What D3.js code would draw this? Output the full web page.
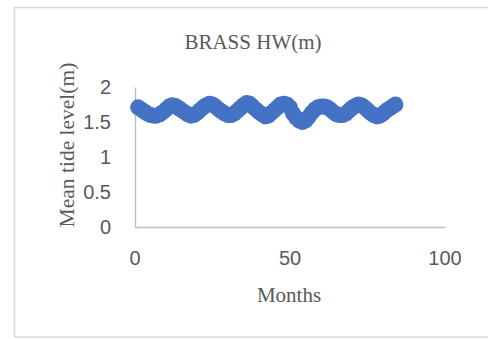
<!DOCTYPE html>
<html>
<head>
<meta charset="utf-8">
<script src="https://cdn.jsdelivr.net/npm/d3@7/dist/d3.min.js"></script>
<style>
  html, body { margin: 0; padding: 0; background: #fff; }
  svg { display: block; }
</style>
</head>
<body>
<svg id="chart" width="488" height="339"></svg>
<script>
// Monthly mean high-water levels at Brass (m), months 1–84
const months = d3.range(1, 85);
const levels = [
  1.71, 1.68, 1.65, 1.62, 1.60, 1.59, 1.59, 1.61, 1.64, 1.68, 1.72, 1.74,
  1.73, 1.70, 1.67, 1.64, 1.61, 1.59, 1.60, 1.63, 1.67, 1.71, 1.74, 1.76,
  1.75, 1.72, 1.68, 1.65, 1.62, 1.60, 1.60, 1.62, 1.66, 1.70, 1.74, 1.77,
  1.76, 1.72, 1.68, 1.64, 1.61, 1.58, 1.59, 1.63, 1.67, 1.71, 1.75, 1.76,
  1.75, 1.71, 1.62, 1.56, 1.52, 1.50, 1.52, 1.57, 1.63, 1.68, 1.71, 1.72,
  1.72, 1.71, 1.68, 1.64, 1.61, 1.60, 1.60, 1.62, 1.66, 1.70, 1.73, 1.75,
  1.74, 1.71, 1.67, 1.63, 1.60, 1.58, 1.59, 1.62, 1.66, 1.69, 1.72, 1.75
];
const xTicks = [0, 50, 100];
const yTicks = [0, 0.5, 1, 1.5, 2];

const svg = d3.select("#chart");
const W = 488, H = 339;

// outer chart-area frame
svg.append("rect")
  .attr("x", 14.5).attr("y", 7.5)
  .attr("width", W + 10).attr("height", 329.5)
  .attr("fill", "#fff").attr("stroke", "#d9d9d9").attr("stroke-width", 1.5);

const x = d3.scaleLinear().domain([0, 100]).range([135, 445]);
const y = d3.scaleLinear().domain([0, 2]).range([227, 87]);

const axisColor = "#bfbfbf";
const tickColor = "#595959";

// axes (lines only; labels placed below)
const gx = svg.append("g").attr("transform", `translate(0,${y(0)})`)
  .call(d3.axisBottom(x).tickValues(xTicks).tickSize(0).tickFormat(""));
gx.select(".domain").attr("stroke", axisColor).attr("stroke-width", 1.5);

const gy = svg.append("g").attr("transform", `translate(${x(0)},0)`)
  .call(d3.axisLeft(y).tickValues(yTicks).tickSize(0).tickFormat(""));
gy.select(".domain").attr("stroke", axisColor).attr("stroke-width", 1.5);

// tick labels
svg.append("g").selectAll("text").data(xTicks).join("text")
  .attr("x", d => x(d)).attr("y", 258)
  .attr("text-anchor", "middle").attr("dominant-baseline", "central")
  .attr("font-family", "Liberation Sans, Arial, sans-serif")
  .attr("font-size", 20).attr("fill", tickColor)
  .text(d => d);

svg.append("g").selectAll("text").data(yTicks).join("text")
  .attr("x", 111).attr("y", d => y(d))
  .attr("text-anchor", "end").attr("dominant-baseline", "central")
  .attr("font-family", "Liberation Sans, Arial, sans-serif")
  .attr("font-size", 20).attr("fill", tickColor)
  .text(d => d);

// markers
svg.append("g").selectAll("circle").data(months).join("circle")
  .attr("cx", d => x(d)).attr("cy", (d, i) => y(levels[i]))
  .attr("r", 8).attr("fill", "#4472c4");

// titles
const serif = "Liberation Serif, Times New Roman, serif";
svg.append("text")
  .attr("x", 253).attr("y", 42)
  .attr("text-anchor", "middle").attr("dominant-baseline", "central")
  .attr("font-family", serif).attr("font-size", 21).attr("fill", "#595959")
  .text("BRASS HW(m)");

svg.append("text")
  .attr("x", 289).attr("y", 295)
  .attr("text-anchor", "middle").attr("dominant-baseline", "central")
  .attr("font-family", serif).attr("font-size", 21).attr("fill", "#595959")
  .text("Months");

svg.append("text")
  .attr("transform", "translate(67,145) rotate(-90)")
  .attr("text-anchor", "middle").attr("dominant-baseline", "central")
  .attr("font-family", serif).attr("font-size", 21.5).attr("fill", "#595959")
  .text("Mean tide level(m)");
</script>
</body>
</html>
